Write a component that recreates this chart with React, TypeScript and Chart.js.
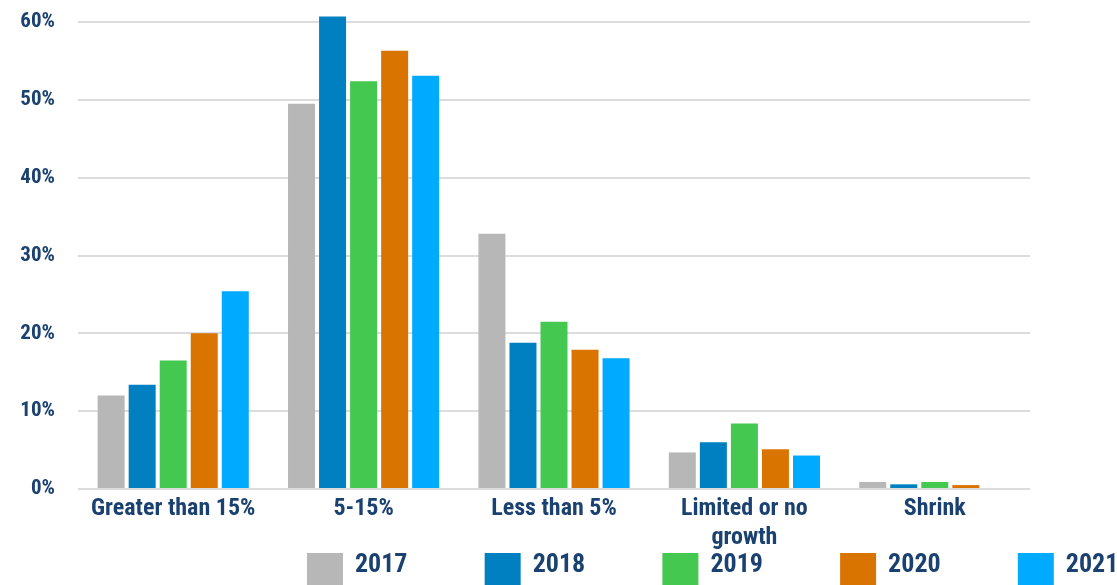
import React, { useEffect, useRef } from "react";
import { Chart, registerables } from "chart.js";

Chart.register(...registerables);

const categories: (string | string[])[] = [
  "Greater than 15%",
  "5-15%",
  "Less than 5%",
  ["Limited or no", "growth"],
  "Shrink",
];
const seriesNames = ["2017", "2018", "2019", "2020", "2021"];
const values2017 = [12.0, 49.5, 32.8, 4.7, 0.9];
const values2018 = [13.4, 60.7, 18.8, 6.0, 0.6];
const values2019 = [16.5, 52.4, 21.5, 8.4, 0.9];
const values2020 = [20.0, 56.3, 17.9, 5.1, 0.5];
const values2021 = [25.4, 53.1, 16.8, 4.3, 0];
const colors = ["#b7b7b7", "#0080c0", "#44c850", "#da7400", "#00aaff"];
const yTicks = [0, 10, 20, 30, 40, 50, 60];

const FONT = '"Roboto Condensed", "Liberation Sans Narrow", "Arial Narrow", Roboto, sans-serif';
const TEXT = "#1a4170";

const legendPlugin = {
  id: "customLegend",
  afterDraw(chart: any) {
    const ctx = chart.ctx;
    const w = chart.width;
    const h = chart.height;
    const x0 = w * 0.2748;
    const step = w * 0.1591;
    ctx.save();
    ctx.font = `bold 26px ${FONT}`;
    ctx.textBaseline = "middle";
    ctx.textAlign = "left";
    chart.data.datasets.forEach((ds: any, i: number) => {
      const x = x0 + i * step;
      ctx.fillStyle = ds.backgroundColor;
      ctx.fillRect(x, h - 32, 36, 32);
      ctx.fillStyle = TEXT;
      ctx.fillText(ds.label, x + 48, h - 20);
    });
    ctx.restore();
  },
};

export default function App() {
  const ref = useRef<HTMLCanvasElement>(null);
  useEffect(() => {
    const all = [values2017, values2018, values2019, values2020, values2021];
    const chart = new Chart(ref.current!, {
      type: "bar",
      data: {
        labels: categories,
        datasets: seriesNames.map((n, i) => ({
          label: n,
          data: all[i],
          backgroundColor: colors[i],
          borderWidth: 0,
          categoryPercentage: 0.815,
          barPercentage: 0.87,
          clip: false as any,
        })),
      },
      options: {
        animation: false,
        responsive: true,
        maintainAspectRatio: false,
        layout: { padding: { top: 22, right: 87, bottom: 36, left: 0 } },
        plugins: { legend: { display: false }, tooltip: { enabled: false } },
        scales: {
          x: {
            grid: { display: false, drawTicks: false },
            border: { display: false },
            ticks: {
              color: TEXT,
              font: { family: FONT, size: 24, weight: "bold", lineHeight: 1.22 },
              padding: 5,
              maxRotation: 0,
              autoSkip: false,
            },
            afterFit(scale: any) {
              scale.height = 60;
            },
          },
          y: {
            min: 0,
            max: 60,
            afterBuildTicks(scale: any) {
              scale.ticks = yTicks.map((v) => ({ value: v }));
            },
            grid: { color: "#dcdcdc", lineWidth: 2, drawTicks: false },
            border: { display: false },
            ticks: {
              color: TEXT,
              font: { family: FONT, size: 21, weight: "bold" },
              padding: 23,
              callback: (v: any) => `${v}%`,
            },
            afterFit(scale: any) {
              scale.width = 78;
              scale.paddingTop = 0;
              scale.paddingBottom = 0;
            },
          },
        },
      },
      plugins: [legendPlugin],
    });
    return () => chart.destroy();
  }, []);
  return (
    <div style={{ position: "absolute", left: 0, top: 0, width: 1117, height: 585, background: "#fff" }}>
      <canvas ref={ref} />
    </div>
  );
}
